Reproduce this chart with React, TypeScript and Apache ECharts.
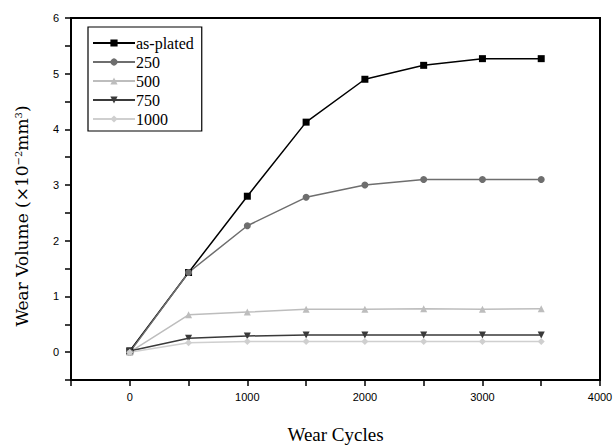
import React, { useEffect, useRef } from "react";
import * as echarts from "echarts";

const cycles = [0, 500, 1000, 1500, 2000, 2500, 3000, 3500];
const seriesNames = ["as-plated", "250", "500", "750", "1000"];
const asPlated = [0.02, 1.43, 2.8, 4.13, 4.9, 5.15, 5.27, 5.27];
const t250 = [0.0, 1.43, 2.27, 2.78, 3.0, 3.1, 3.1, 3.1];
const t500 = [0.0, 0.67, 0.72, 0.77, 0.77, 0.78, 0.77, 0.78];
const t750 = [0.02, 0.25, 0.29, 0.31, 0.31, 0.31, 0.31, 0.31];
const t1000 = [0.0, 0.17, 0.19, 0.19, 0.19, 0.19, 0.19, 0.19];

const seriesValues = [asPlated, t250, t500, t750, t1000];
const colors = ["#000000", "#6e6e6e", "#bdbdbd", "#3a3a3a", "#cfcfcf"];
const symbols = ["rect", "circle", "triangle", "triangle", "diamond"];
const rotations = [0, 0, 0, 180, 0];

const SERIF = "'Liberation Serif', 'DejaVu Serif', serif";
const SLAB = "'DejaVu Serif', 'Liberation Serif', serif";
const SANS = "'Liberation Sans', Arial, sans-serif";

export default function App() {
  const ref = useRef<HTMLDivElement>(null);
  useEffect(() => {
    if (!ref.current) return;
    const chart = echarts.init(ref.current, null, { renderer: "svg" });
    chart.setOption({
      animation: false,
      backgroundColor: "#ffffff",
      grid: {
        left: 71,
        right: 14,
        top: 18,
        bottom: 67,
        show: true,
        borderColor: "#000",
        borderWidth: 2,
        containLabel: false,
        outerBoundsMode: "none",
      },
      legend: {
        orient: "vertical",
        left: 88,
        top: 27,
        itemWidth: 42,
        itemHeight: 9,
        itemGap: 3,
        padding: [8, 8, 4, 4],
        borderColor: "#000",
        borderWidth: 1.2,
        textStyle: { fontFamily: SERIF, fontSize: 16, color: "#000", padding: [0, 0, 0, -4] },
        data: seriesNames,
      },
      xAxis: {
        type: "value",
        min: -500,
        max: 4000,
        interval: 500,
        name: "Wear Cycles",
        nameLocation: "middle",
        nameGap: 45,
        nameTextStyle: { fontFamily: SERIF, fontSize: 19, color: "#000" },
        axisLine: { onZero: false, lineStyle: { color: "#000", width: 2 } },
        axisTick: { inside: false, length: 6, lineStyle: { color: "#000", width: 1.5 } },
        axisLabel: {
          fontFamily: SANS,
          fontSize: 11,
          color: "#000",
          margin: 11,
          formatter: (v: number) => (v >= 0 && v % 1000 === 0 ? String(v) : ""),
        },
        splitLine: { show: false },
      },
      yAxis: {
        type: "value",
        min: -0.5,
        max: 6,
        interval: 0.5,
        name: "Wear Volume (×10{sup|−2}mm{sup|3})",
        nameLocation: "middle",
        nameGap: 40,
        nameTextStyle: {
          fontFamily: SLAB,
          fontSize: 17,
          color: "#000",
          padding: [0, 34, 0, 0],
          rich: {
            sup: {
              fontFamily: SLAB,
              fontSize: 10,
              color: "#000",
              verticalAlign: "top",
              padding: [0, 0, 8, 0],
            },
          },
        },
        axisLine: { onZero: false, lineStyle: { color: "#000", width: 2 } },
        axisTick: { inside: false, length: 6, lineStyle: { color: "#000", width: 1.5 } },
        axisLabel: {
          fontFamily: SANS,
          fontSize: 11,
          color: "#000",
          margin: 12,
          formatter: (v: number) =>
            v >= 0 && Math.abs(v - Math.round(v)) < 1e-6 ? String(Math.round(v)) : "",
        },
        splitLine: { show: false },
      },
      series: seriesNames.map((name, i) => ({
        name,
        type: "line",
        data: cycles.map((c, j) => [c, seriesValues[i][j]]),
        symbol: symbols[i],
        symbolRotate: rotations[i],
        symbolSize: 7,
        showAllSymbol: true,
        itemStyle: { color: colors[i] },
        lineStyle: { color: colors[i], width: 1.5 },
      })),
    });
    return () => chart.dispose();
  }, []);
  return (
    <div
      ref={ref}
      style={{ position: "absolute", left: 0, top: 0, width: 614, height: 447 }}
    />
  );
}
